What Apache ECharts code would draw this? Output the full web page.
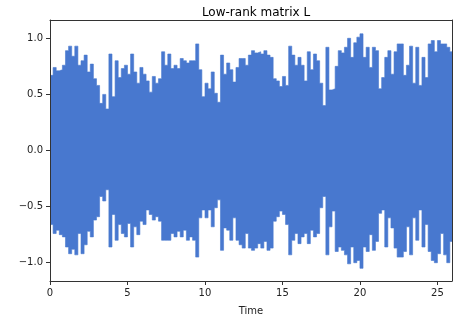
<!DOCTYPE html>
<html>
<head>
<meta charset="utf-8">
<script src="https://cdn.jsdelivr.net/npm/echarts@6/dist/echarts.min.js"></script>
<style>
  html, body { margin: 0; padding: 0; background: #fff; }
  #chart { width: 474px; height: 326px; }
</style>
</head>
<body>
<div id="chart"></div>
<script>
// Waveform envelope (librosa-style waveplot): max / min of the signal per 0.2 s block.
const T_STEP = 0.2;
const X_MAX = 25.94;
const Y_RANGE = 1.163;
const X_TICKS = [0, 5, 10, 15, 20, 25];
const Y_TICKS = [-1.0, -0.5, 0.0, 0.5, 1.0];

const UPPER = [
  0.67, 0.74, 0.71, 0.72, 0.76, 0.89, 0.93, 0.84, 0.93, 0.76,
  0.80, 0.85, 0.70, 0.77, 0.64, 0.58, 0.42, 0.50, 0.37, 0.86,
  0.48, 0.80, 0.65, 0.73, 0.76, 0.68, 0.86, 0.70, 0.60, 0.74,
  0.68, 0.62, 0.52, 0.66, 0.60, 0.64, 0.88, 0.76, 0.86, 0.73,
  0.76, 0.73, 0.82, 0.80, 0.78, 0.80, 0.80, 0.95, 0.72, 0.48,
  0.60, 0.55, 0.70, 0.51, 0.43, 0.85, 0.68, 0.78, 0.72, 0.61,
  0.74, 0.82, 0.82, 0.76, 0.85, 0.89, 0.87, 0.88, 0.86, 0.89,
  0.85, 0.83, 0.64, 0.62, 0.57, 0.66, 0.58, 0.93, 0.85, 0.76,
  0.83, 0.76, 0.62, 0.88, 0.72, 0.86, 0.80, 0.60, 0.40, 0.92,
  0.54, 0.55, 0.75, 0.89, 0.87, 0.92, 1.00, 0.83, 0.96, 1.01,
  1.04, 0.83, 0.92, 0.74, 0.92, 0.89, 0.55, 0.65, 0.83, 0.89,
  0.68, 0.88, 0.95, 0.95, 0.67, 0.76, 0.93, 0.60, 0.92, 0.58,
  0.83, 0.65, 0.95, 0.98, 0.88, 0.98, 0.95, 0.95, 0.92, 0.88,
];

const LOWER = [
  -0.66, -0.74, -0.71, -0.75, -0.77, -0.86, -0.92, -0.88, -0.93, -0.74,
  -0.92, -0.84, -0.72, -0.77, -0.62, -0.59, -0.41, -0.45, -0.35, -0.86,
  -0.57, -0.80, -0.66, -0.74, -0.77, -0.65, -0.86, -0.68, -0.75, -0.63,
  -0.66, -0.53, -0.57, -0.62, -0.59, -0.63, -0.80, -0.80, -0.80, -0.74,
  -0.77, -0.72, -0.77, -0.71, -0.80, -0.77, -0.80, -0.95, -0.60, -0.53,
  -0.60, -0.53, -0.68, -0.51, -0.44, -0.89, -0.69, -0.71, -0.80, -0.60,
  -0.80, -0.84, -0.87, -0.74, -0.87, -0.89, -0.87, -0.83, -0.87, -0.81,
  -0.89, -0.87, -0.63, -0.59, -0.54, -0.57, -0.66, -0.93, -0.80, -0.74,
  -0.83, -0.77, -0.74, -0.83, -0.71, -0.77, -0.74, -0.51, -0.41, -0.93,
  -0.68, -0.54, -0.90, -0.86, -0.89, -0.93, -1.01, -0.86, -1.00, -0.98,
  -1.05, -0.86, -0.90, -0.75, -0.89, -0.81, -0.56, -0.53, -0.86, -0.60,
  -0.69, -0.87, -0.95, -0.95, -0.90, -0.68, -0.93, -0.60, -0.80, -0.53,
  -0.86, -0.66, -0.90, -0.98, -1.00, -0.92, -0.74, -0.93, -1.00, -0.81,
];

const BLUE = '#4878cf';
const INK = '#222';
const FONT = '"DejaVu Sans", sans-serif';

// [t, v] pairs; the last block is held out to the right edge of the axis.
function toPairs(values) {
  const pts = values.map((v, i) => [+(i * T_STEP).toFixed(2), v]);
  pts.push([X_MAX, values[values.length - 1]]);
  return pts;
}

const fmtY = (v) => (v < 0 ? '\u2212' : '') + Math.abs(v).toFixed(1);

// matplotlib-style box: every spine stays on the grid edge, never at zero
const spine = { show: true, onZero: false, lineStyle: { color: '#333', width: 1 } };

const chart = echarts.init(document.getElementById('chart'), null, { renderer: 'canvas' });
chart.setOption({
  animation: false,
  textStyle: { fontFamily: FONT },
  title: {
    text: 'Low-rank matrix L',
    left: 251, top: 2, textAlign: 'center',
    textStyle: { fontSize: 12, fontWeight: 'normal', color: '#000', fontFamily: FONT },
  },
  grid: { left: 50, right: 22, top: 20, bottom: 45 },
  xAxis: [
    {
      type: 'value', min: 0, max: X_MAX, z: 5,
      name: 'Time', nameLocation: 'middle', nameGap: 25,
      nameTextStyle: { fontSize: 10, color: INK, fontFamily: FONT },
      axisLine: spine,
      axisTick: { show: true, length: 4, customValues: X_TICKS, lineStyle: { color: '#333' } },
      axisLabel: { fontSize: 10, color: INK, margin: 7, customValues: X_TICKS },
      splitLine: { show: false },
    },
    {
      type: 'value', position: 'top', min: 0, max: X_MAX, z: 5,
      axisLine: spine, axisTick: { show: false }, axisLabel: { show: false }, splitLine: { show: false },
    },
  ],
  yAxis: [
    {
      type: 'value', min: -Y_RANGE, max: Y_RANGE, z: 5,
      axisLine: spine,
      axisTick: { show: true, length: 4, customValues: Y_TICKS, lineStyle: { color: '#333' } },
      axisLabel: { fontSize: 10, color: INK, margin: 7, customValues: Y_TICKS, formatter: fmtY },
      splitLine: { show: false },
    },
    {
      type: 'value', position: 'right', min: -Y_RANGE, max: Y_RANGE, z: 5,
      axisLine: spine, axisTick: { show: false }, axisLabel: { show: false }, splitLine: { show: false },
    },
  ],
  series: [
    {
      // fill a little past zero so the two halves overlap and no seam shows
      name: 'max', type: 'line', step: 'end', showSymbol: false, silent: true,
      data: toPairs(UPPER),
      lineStyle: { color: BLUE, width: 0.6 },
      areaStyle: { color: BLUE, opacity: 1, origin: -0.1 },
    },
    {
      name: 'min', type: 'line', step: 'end', showSymbol: false, silent: true,
      data: toPairs(LOWER),
      lineStyle: { color: BLUE, width: 0.6 },
      areaStyle: { color: BLUE, opacity: 1 },
    },
  ],
});
</script>
</body>
</html>
